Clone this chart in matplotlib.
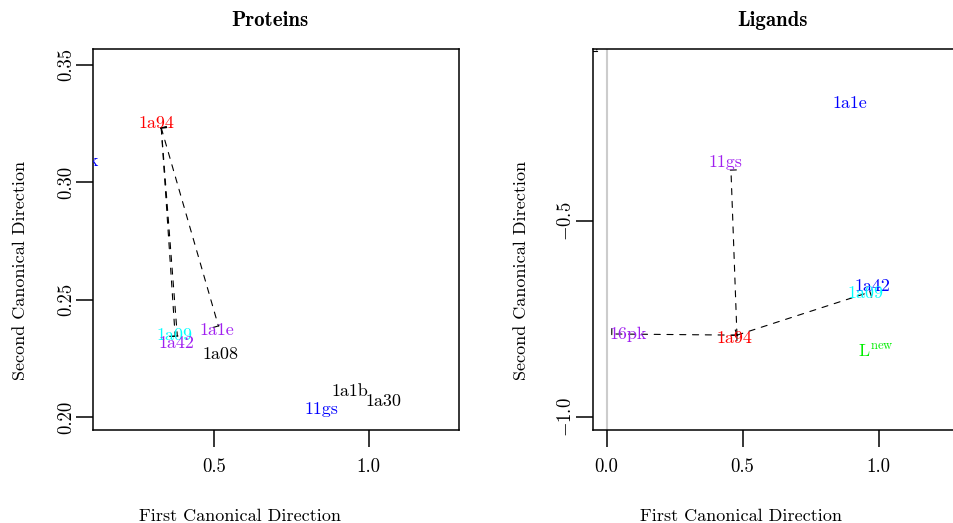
import matplotlib
matplotlib.use("Agg")
import matplotlib.pyplot as plt
from matplotlib.patches import FancyArrowPatch

plt.rcParams['font.family'] = ['cmr10', 'DejaVu Serif']
plt.rcParams['mathtext.fontset'] = 'cm'
plt.rcParams['axes.unicode_minus'] = False

# Proteins (first two canonical directions)
prot_labels = ['16pk', '1a94', '1a09', '1a42', '1a1e', '1a08', '1a1b', '1a30', '11gs']
prot_x = [0.065, 0.312, 0.370, 0.377, 0.5065, 0.519, 0.938, 1.049, 0.847]
prot_y = [0.3087, 0.3249, 0.2349, 0.2315, 0.237, 0.2268, 0.211, 0.2068, 0.2034]
prot_col = ['blue', 'red', 'cyan', '#A020F0', '#A020F0', 'black', 'black', 'black', 'blue']
prot_from = (0.328, 0.3231)
prot_to_x = [0.380, 0.373, 0.513]
prot_to_y = [0.2345, 0.2345, 0.2388]

# Ligands
lig_labels = ['1a1e', '11gs', '1a42', '1a09', '16pk', '1a94']
lig_x = [0.895, 0.435, 0.975, 0.950, 0.078, 0.468]
lig_y = [-0.199, -0.350, -0.666, -0.684, -0.788, -0.798]
lig_col = ['blue', '#A020F0', 'blue', 'cyan', '#A020F0', 'red']
lig_from = (0.479, -0.791)
lig_to_x = [0.457, 0.019, 0.968]
lig_to_y = [-0.370, -0.788, -0.681]
new_x, new_y = 0.99, -0.834
# arrow leaving the top of the panel
off_from = (-0.036, 0.05)
off_to = (-0.036, -0.065)

fs = 13
W, H = 954, 523
fig = plt.figure(figsize=(9.54, 5.23), dpi=100)
ax1 = fig.add_axes([93 / W, 1 - 430 / H, 366 / W, 381 / H])
ax2 = fig.add_axes([593 / W, 1 - 430 / H, 366 / W, 381 / H])


def seg(ax, a, b):
    p = FancyArrowPatch(a, b, arrowstyle='|-|,widthA=0.3,widthB=0.3',
                        mutation_scale=fs, linestyle=(0, (5.5, 6)),
                        lw=0.8, color='black', shrinkA=0, shrinkB=0)
    ax.add_patch(p)


for xe, ye in zip(prot_to_x, prot_to_y):
    seg(ax1, prot_from, (xe, ye))
for lab, x, y, c in zip(prot_labels, prot_x, prot_y, prot_col):
    ax1.text(x, y, lab, color=c, ha='center', va='center', fontsize=fs, clip_on=True)

ax2.axvline(0, color='#cccccc', lw=1.5)
for xe, ye in zip(lig_to_x, lig_to_y):
    seg(ax2, lig_from, (xe, ye))
seg(ax2, off_from, off_to)
for lab, x, y, c in zip(lig_labels, lig_x, lig_y, lig_col):
    ax2.text(x, y, lab, color=c, ha='center', va='center', fontsize=fs, clip_on=True)
ax2.text(new_x, new_y, r'L$^{\mathrm{new}}$', color='#00EE00', ha='center', va='center',
         fontsize=fs, clip_on=True)

ax1.set_xlim(0.107, 1.292)
ax1.set_ylim(0.1945, 0.3567)
ax1.set_xticks([0.5, 1.0])
ax1.set_xticklabels(['0.5', '1.0'])
ax1.set_yticks([0.20, 0.25, 0.30, 0.35])
ax1.set_yticklabels(['0.20', '0.25', '0.30', '0.35'])

ax2.set_xlim(-0.050, 1.295)
ax2.set_ylim(-1.033, -0.061)
ax2.set_xticks([0.0, 0.5, 1.0])
ax2.set_xticklabels(['0.0', '0.5', '1.0'])
ax2.set_yticks([-1.0, -0.5])
ax2.set_yticklabels(['$-$1.0', '$-$0.5'])

for ax in (ax1, ax2):
    for s in ax.spines.values():
        s.set_linewidth(1.1)
    ax.tick_params(length=12, width=1.1, labelsize=13.5)
    ax.tick_params(axis='x', pad=8)
    ax.tick_params(axis='y', pad=1)
    for t in ax.get_yticklabels():
        t.set_rotation(90)
        t.set_va('center')

fig.text(270 / W, 1 - 20 / H, 'Proteins', fontsize=15, family=['cmb10', 'DejaVu Serif'],
         ha='center', va='center')
fig.text(773 / W, 1 - 20 / H, 'Ligands', fontsize=15, family=['cmb10', 'DejaVu Serif'],
         ha='center', va='center')
fig.text(240 / W, 1 - 516 / H, 'First Canonical Direction', fontsize=fs, ha='center', va='center')
fig.text(741 / W, 1 - 516 / H, 'First Canonical Direction', fontsize=fs, ha='center', va='center')
fig.text(20 / W, 1 - 270 / H, 'Second Canonical Direction', fontsize=fs, rotation=90,
         ha='center', va='center')
fig.text(521 / W, 1 - 270 / H, 'Second Canonical Direction', fontsize=fs, rotation=90,
         ha='center', va='center')

fig.savefig('out.png', dpi=100)
